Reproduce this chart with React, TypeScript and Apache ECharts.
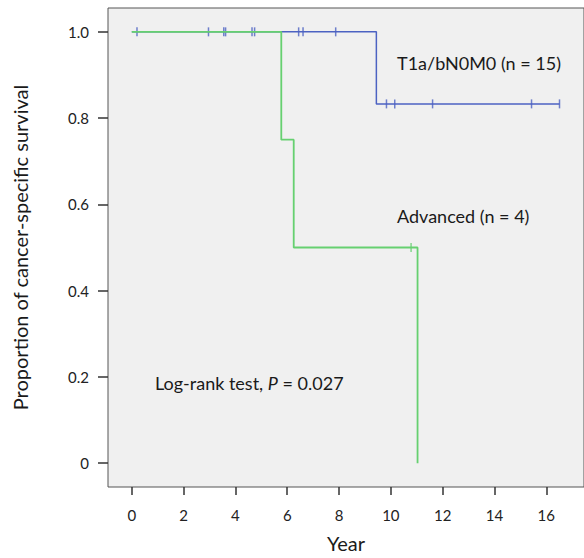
import React, { useEffect, useRef } from "react";
import * as echarts from "echarts";

// Kaplan–Meier step points [year, survival]
const t1aTimes = [0, 9.44, 16.51];
const t1aSurv = [1.0, 0.833, 0.833];
const t1aCensorTimes = [0.2, 2.96, 3.55, 3.62, 4.64, 4.74, 6.44, 6.61, 7.87, 9.83, 10.15, 11.61, 15.43, 16.51];
const t1aCensorSurv = [1, 1, 1, 1, 1, 1, 1, 1, 1, 0.833, 0.833, 0.833, 0.833, 0.833];

const advTimes = [0, 5.77, 6.25, 11.03];
const advSurv = [1.0, 0.75, 0.5, 0.0];
const advCensorTimes = [10.78];
const advCensorSurv = [0.5];

const xTicks = [0, 2, 4, 6, 8, 10, 12, 14, 16];
const yTicks = [0, 0.2, 0.4, 0.6, 0.8, 1.0];

const BLUE = "#4c62c2";
const GREEN = "#66d070";
const FONT = "Lato";
const TXT = "#1a1a1a";

const zip = (a: number[], b: number[]) => a.map((v, i) => [v, b[i]]);

export default function App() {
  const ref = useRef<HTMLDivElement>(null);
  useEffect(() => {
    if (!ref.current) return;
    const chart = echarts.init(ref.current, null, { renderer: "svg" });
    chart.setOption({
      animation: false,
      backgroundColor: "#ffffff",
      grid: {
        left: 108,
        top: 8,
        width: 480,
        height: 482,
        show: true,
        backgroundColor: "#f0f0f0",
        borderColor: "#555555",
        borderWidth: 1,
      },
      xAxis: {
        type: "value",
        min: -0.919,
        max: 17.455,
        axisLine: { show: false, onZero: false },
        splitLine: { show: false },
        axisTick: { show: true, length: 8, customValues: xTicks, lineStyle: { color: "#333", width: 1.5 } },
        axisLabel: {
          customValues: xTicks,
          margin: 20,
          fontFamily: FONT,
          fontSize: 15,
          color: "#222",
        },
        name: "Year",
        nameLocation: "middle",
        nameGap: 46,
        nameTextStyle: { fontFamily: FONT, fontSize: 20, color: TXT },
      },
      yAxis: {
        type: "value",
        min: -0.0553,
        max: 1.0553,
        axisLine: { show: false, onZero: false },
        splitLine: { show: false },
        axisTick: { show: true, length: 10, customValues: yTicks, lineStyle: { color: "#333", width: 1.5 } },
        axisLabel: {
          customValues: yTicks,
          margin: 19,
          fontFamily: FONT,
          fontSize: 15,
          color: "#222",
          formatter: (v: number) => (v === 0 ? "0" : v.toFixed(1)),
        },
        name: "Proportion of cancer-specific survival",
        nameLocation: "middle",
        nameGap: 78,
        nameTextStyle: { fontFamily: FONT, fontSize: 20, color: TXT },
      },
      series: [
        {
          type: "line",
          step: "end",
          data: zip(t1aTimes, t1aSurv),
          symbol: "none",
          lineStyle: { color: BLUE, width: 1.5 },
        },
        {
          type: "line",
          step: "end",
          data: zip(advTimes, advSurv),
          symbol: "none",
          lineStyle: { color: GREEN, width: 1.8 },
        },
        {
          type: "scatter",
          data: zip(t1aCensorTimes, t1aCensorSurv),
          symbol: "rect",
          symbolSize: [1.5, 9],
          itemStyle: { color: BLUE },
        },
        {
          type: "scatter",
          data: zip(advCensorTimes, advCensorSurv),
          symbol: "rect",
          symbolSize: [1.5, 9],
          itemStyle: { color: GREEN },
        },
      ],
      graphic: [
        {
          type: "text",
          x: 397,
          y: 63,
          style: { text: "T1a/bN0M0 (n = 15)", fontFamily: FONT, fontSize: 18, fill: TXT, verticalAlign: "middle" },
        },
        {
          type: "text",
          x: 397,
          y: 216,
          style: { text: "Advanced (n = 4)", fontFamily: FONT, fontSize: 18, fill: TXT, verticalAlign: "middle" },
        },
        {
          type: "text",
          x: 155,
          y: 383,
          style: {
            text: "{a|Log-rank test, }{b|P}{a| = 0.027}",
            verticalAlign: "middle",
            rich: {
              a: { fontFamily: FONT, fontSize: 18, fill: TXT, color: TXT },
              b: { fontFamily: FONT, fontSize: 18, fontStyle: "italic", fill: TXT, color: TXT },
            },
          },
        },
      ],
    });
    return () => chart.dispose();
  }, []);
  return <div ref={ref} style={{ position: "fixed", left: 0, top: 0, width: 584, height: 558 }} />;
}
